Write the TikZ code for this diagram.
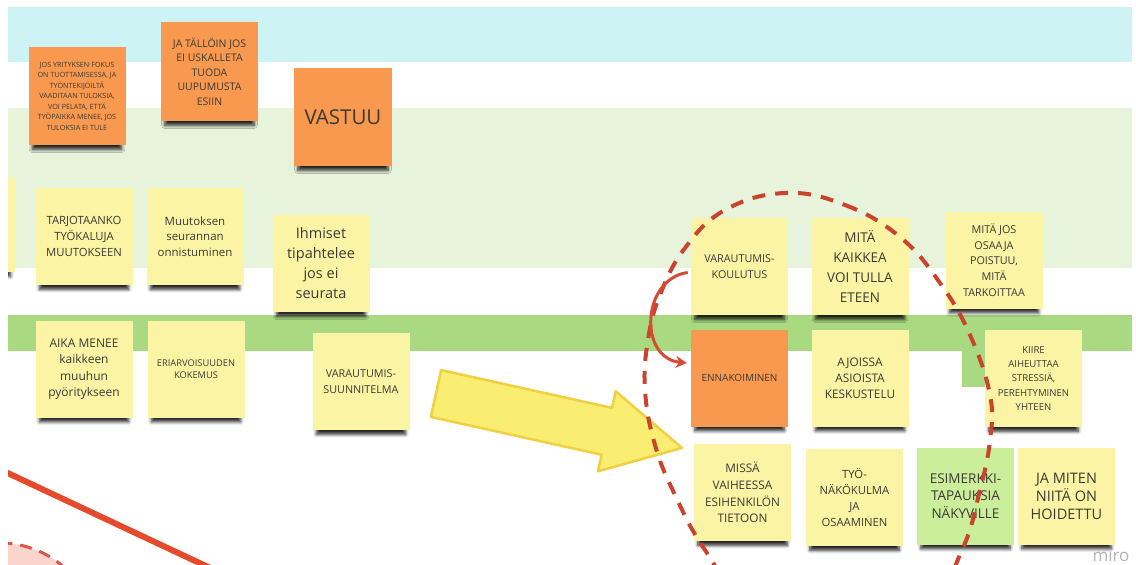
\documentclass[tikz,border=0pt]{standalone}
\usepackage{fontspec}
\setmainfont{Open Sans}
\usetikzlibrary{arrows.meta,shadows.blur}

\definecolor{bandcyan}{HTML}{CDF3F5}
\definecolor{bandlight}{HTML}{E7F3DB}
\definecolor{bandgreen}{HTML}{A9DA81}
\definecolor{stickyyellow}{HTML}{FCF4A5}
\definecolor{stickyorange}{HTML}{F8994F}
\definecolor{stickygreen}{HTML}{CBEE9B}
\definecolor{inktext}{HTML}{3D3A33}
\definecolor{markred}{HTML}{C9432D}
\definecolor{curvered}{HTML}{D64B35}
\definecolor{linered}{HTML}{E54A2C}
\definecolor{arrowfill}{HTML}{FAEE72}
\definecolor{arrowedge}{HTML}{F0D040}
\definecolor{circlefill}{HTML}{FAD4CD}
\definecolor{circleedge}{HTML}{D5584A}
\definecolor{logogray}{HTML}{B4B4B4}

\newcommand\fsz[2]{\fontsize{#1}{#2}\selectfont}

\tikzset{
  sticky/.style={minimum width=97pt,minimum height=97pt,inner sep=2pt,
    align=center,text=inktext,
    blur shadow={shadow xshift=0pt,shadow yshift=-9pt,shadow scale=0.92,
      shadow opacity=85,shadow blur steps=6,shadow blur radius=3.5pt}},
  ynote/.style={sticky,fill=stickyyellow},
  onote/.style={sticky,fill=stickyorange},
  gnote/.style={sticky,fill=stickygreen},
  bigarrow/.style={fill=arrowfill,draw=arrowedge,line width=2.5pt,line join=round},
  ringdash/.style={draw=markred,line width=4pt,dash pattern=on 13pt off 10pt},
  loopred/.style={draw=curvered,line width=3pt,-{Stealth[length=11pt,width=12pt]}},
  slash/.style={draw=linered,line width=6pt},
  pinkdisc/.style={fill=circlefill,draw=circleedge,line width=3pt,dash pattern=on 12pt off 8pt},
}

\begin{document}
\begin{tikzpicture}[x=1pt,y=-1pt]
\useasboundingbox (0,0) rectangle (1136,565);
\clip (8,7) rectangle (1132,565);

% swim lanes
\fill[bandcyan] (8,7) rectangle (1132,62);
\fill[bandlight] (8,108) rectangle (1132,268);
\fill[bandgreen] (8,315) rectangle (1132,351);
\fill[bandgreen] (962,350) rectangle (1000,387);

% corner marks
\draw[pinkdisc] (0,640) circle[radius=97pt];
\coordinate (slashA) at (-20,460);
\coordinate (slashB) at (240,582);
\draw[slash] (slashA) -- (slashB);

% sticky notes, left part
\node[onote,minimum height=98pt,font=\fsz{7.2}{10.5}] (focus) at (77,96)
  {JOS YRITYKSEN FOKUS\\ON TUOTTAMISESSA, JA\\TYÖNTEKIJÖILTÄ\\VAADITAAN TULOKSIA,\\VOI PELATA, ETTÄ\\TYÖPAIKKA MENEE, JOS\\TULOKSIA EI TULE};
\node[onote,minimum height=99pt,font=\fsz{10.5}{14.5}] (uskalla) at (209.5,71.5)
  {JA TÄLLÖIN JOS\\EI USKALLETA\\TUODA\\UUPUMUSTA\\ESIIN};
\node[onote,minimum width=98pt,minimum height=98pt,font=\fsz{20.5}{24}] (vastuu) at (343,117) {VASTUU};

\node[ynote,minimum height=94pt] (reuna) at (-34,225) {};
\node[ynote,font=\fsz{11.3}{15.7}] (tarj) at (84,236.5) {TARJOTAANKO\\TYÖKALUJA\\MUUTOKSEEN};
\node[ynote,font=\fsz{11.5}{15.7}] (muut) at (195,236.5) {Muutoksen\\seurannan\\onnistuminen};
\node[ynote,font=\fsz{14.5}{20}] (ihmiset) at (321,263.5) {Ihmiset\\tipahtelee\\jos ei\\seurata};
\node[ynote,font=\fsz{12}{16.5}] (aika) at (84,369) {AIKA MENEE\\kaikkeen\\muuhun\\pyöritykseen};
\node[ynote,font=\fsz{9.3}{11.5}] (eriarvo) at (196,369) {ERIARVOISUUDEN\\KOKEMUS};
\node[ynote,font=\fsz{10.8}{15.5}] (vsuun) at (361,381.5) {VARAUTUMIS-\\SUUNNITELMA};

% sticky notes, right part
\node[ynote,font=\fsz{10.8}{16}] (vkoul) at (739.5,266.5) {VARAUTUMIS-\\KOULUTUS};
\node[ynote,font=\fsz{13.5}{20}] (kaikkea) at (860,266.5) {MITÄ\\KAIKKEA\\VOI TULLA\\ETEEN};
\node[ynote,font=\fsz{10.8}{15.7}] (osaaja) at (994,260) {MITÄ JOS\\OSAAJA\\POISTUU,\\MITÄ\\TARKOITTAA};
\node[onote,font=\fsz{10}{14}] (enna) at (739.5,378) {ENNAKOIMINEN};
\node[ynote,font=\fsz{11.8}{16}] (ajoissa) at (860,378) {AJOISSA\\ASIOISTA\\KESKUSTELU};
\node[ynote,font=\fsz{9.6}{14.3}] (kiire) at (1033.5,378.5) {KIIRE\\AIHEUTTAA\\STRESSIÄ,\\PEREHTYMINEN\\YHTEEN};
\node[ynote,font=\fsz{11.8}{16.7}] (missa) at (742.5,492.5) {MISSÄ\\VAIHEESSA\\ESIHENKILÖN\\TIETOON};
\node[ynote,font=\fsz{11.3}{15.7}] (tyo) at (854.5,497.5) {TYÖ-\\NÄKÖKULMA\\JA\\OSAAMINEN};
\node[gnote,font=\fsz{13.5}{17.5}] (esim) at (965.5,496) {ESIMERKKI-\\TAPAUKSIA\\NÄKYVILLE};
\node[ynote,font=\fsz{14.5}{18}] (miten) at (1066.5,496) {JA MITEN\\NIITÄ ON\\HOIDETTU};

% big yellow arrow
\draw[bigarrow] (441.2,370.1) -- (612.0,407.9) -- (615.7,391.3) -- (682.0,447.9)
  -- (597.9,471.3) -- (601.6,454.7) -- (430.8,416.9) -- cycle;

% dashed ring around the right cluster
\draw[ringdash] plot[smooth cycle,tension=0.7] coordinates {
  (785,193) (845,205) (900,237) (940,283) (970,335) (990,395) (990,440)
  (980,490) (962,550) (925,610) (840,640) (750,605) (705,550) (675,495)
  (655,445) (645,390) (648,340) (660,295) (685,248) (725,210)};

% curved arrow between the two notes
\draw[loopred] ([xshift=-3pt,yshift=-6pt]vkoul.west) .. controls +(-46,6) and +(-49,-5) .. ([xshift=-4pt,yshift=15pt]enna.west);

% board watermark
\node[text=logogray,font=\fsz{17}{17},inner sep=0pt] (logo) at (1111,555) {miro};
\end{tikzpicture}
\end{document}
